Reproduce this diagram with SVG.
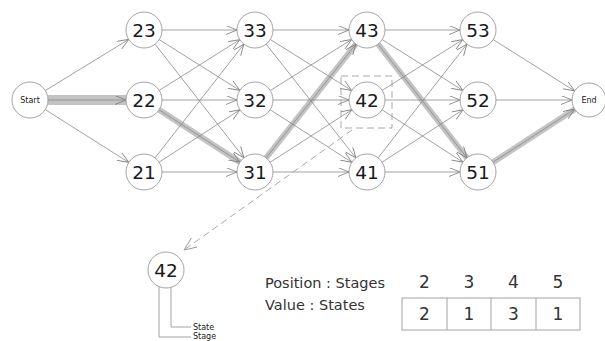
<svg xmlns="http://www.w3.org/2000/svg" width="605" height="341" viewBox="0 0 605 341">
<defs>
<style>
.e{stroke:#8a8a8a;stroke-width:0.8;fill:none;marker-end:url(#ah)}
.hl{stroke:#bdbdbd;stroke-opacity:0.9;fill:none;stroke-linecap:butt}
.n circle{fill:#fff;stroke:#999;stroke-width:0.9}
.n text{font-family:"DejaVu Sans",Verdana,sans-serif;fill:#1a1a1a;text-anchor:middle}
.big{font-size:18.5px}
.sm{font-size:8px}
.lbl{font-family:"DejaVu Sans",Verdana,sans-serif;fill:#333}
</style>
<marker id="ah" markerUnits="userSpaceOnUse" markerWidth="12" markerHeight="10" refX="11" refY="4.5" orient="auto" viewBox="0 0 12 10">
<path d="M0,0 L11,4.5 L0,9" fill="none" stroke="#7a7a7a" stroke-width="0.8"/>
</marker>
<marker id="ah2" markerUnits="userSpaceOnUse" markerWidth="14" markerHeight="12" refX="13" refY="5.5" orient="auto" viewBox="0 0 14 12">
<path d="M0,0 L13,5.5 L0,11" fill="none" stroke="#999" stroke-width="0.9"/>
</marker>
</defs>
<rect width="605" height="341" fill="#fff"/>
<g id="highlight">
<line class="hl" x1="48" y1="100" x2="130" y2="100" stroke-width="10"/>
<line class="hl" x1="144" y1="100" x2="255" y2="172" stroke-width="6"/>
<line class="hl" x1="255" y1="172" x2="367" y2="30" stroke-width="6"/>
<line class="hl" x1="367" y1="30" x2="478" y2="172" stroke-width="6"/>
<line class="hl" x1="478" y1="172" x2="589" y2="100" stroke-width="6"/>
</g>
<g id="connectors">
<line class="e" x1="45.3" y1="90.6" x2="128.7" y2="39.4"/>
<line class="e" x1="48" y1="100" x2="126" y2="100"/>
<line class="e" x1="45.2" y1="109.6" x2="128.8" y2="162.4"/>

<line class="e" x1="162" y1="30" x2="237" y2="30"/>
<line class="e" x1="159.2" y1="39.6" x2="239.8" y2="90.4"/>
<line class="e" x1="155.1" y1="44.2" x2="243.9" y2="157.8"/>
<line class="e" x1="159.2" y1="90.4" x2="239.8" y2="39.6"/>
<line class="e" x1="162" y1="100" x2="237" y2="100"/>
<line class="e" x1="159.1" y1="109.8" x2="239.9" y2="162.2"/>
<line class="e" x1="155.1" y1="157.8" x2="243.9" y2="44.2"/>
<line class="e" x1="159.1" y1="162.2" x2="239.9" y2="109.8"/>
<line class="e" x1="162" y1="172" x2="237" y2="172"/>

<line class="e" x1="273" y1="30" x2="349" y2="30"/>
<line class="e" x1="270.3" y1="39.5" x2="351.7" y2="90.5"/>
<line class="e" x1="266.1" y1="44.1" x2="355.9" y2="157.9"/>
<line class="e" x1="270.3" y1="90.5" x2="351.7" y2="39.5"/>
<line class="e" x1="273" y1="100" x2="349" y2="100"/>
<line class="e" x1="270.1" y1="109.7" x2="351.9" y2="162.3"/>
<line class="e" x1="266.1" y1="157.9" x2="355.9" y2="44.1"/>
<line class="e" x1="270.1" y1="162.3" x2="351.9" y2="109.7"/>
<line class="e" x1="273" y1="172" x2="349" y2="172"/>

<line class="e" x1="385" y1="30" x2="460" y2="30"/>
<line class="e" x1="382.2" y1="39.6" x2="462.8" y2="90.4"/>
<line class="e" x1="378.1" y1="44.2" x2="466.9" y2="157.8"/>
<line class="e" x1="382.2" y1="90.4" x2="462.8" y2="39.6"/>
<line class="e" x1="385" y1="100" x2="460" y2="100"/>
<line class="e" x1="382.1" y1="109.8" x2="462.9" y2="162.2"/>
<line class="e" x1="378.1" y1="157.8" x2="466.9" y2="44.2"/>
<line class="e" x1="382.1" y1="162.2" x2="462.9" y2="109.8"/>
<line class="e" x1="385" y1="172" x2="460" y2="172"/>

<line class="e" x1="493.2" y1="39.6" x2="574.6" y2="90.9"/>
<line class="e" x1="496" y1="100" x2="572" y2="100"/>
<line class="e" x1="493.1" y1="162.2" x2="574.7" y2="109.2"/>

<rect x="341" y="76" width="51" height="52" fill="none" stroke="#a0a0a0" stroke-width="0.9" stroke-dasharray="7,4"/>
<line x1="352" y1="130" x2="184" y2="250" stroke="#a0a0a0" stroke-width="0.9" stroke-dasharray="7,4" marker-end="url(#ah2)"/>
</g>
<g id="start" class="n"><circle cx="30" cy="100" r="18"/><text class="sm" x="30" y="103">Start</text></g>
<g id="n23" class="n"><circle cx="144" cy="30" r="18"/><text class="big" x="144" y="36.5">23</text></g>
<g id="n22" class="n"><circle cx="144" cy="100" r="18"/><text class="big" x="144" y="106.5">22</text></g>
<g id="n21" class="n"><circle cx="144" cy="172" r="18"/><text class="big" x="144" y="178.5">21</text></g>
<g id="n33" class="n"><circle cx="255" cy="30" r="18"/><text class="big" x="255" y="36.5">33</text></g>
<g id="n32" class="n"><circle cx="255" cy="100" r="18"/><text class="big" x="255" y="106.5">32</text></g>
<g id="n31" class="n"><circle cx="255" cy="172" r="18"/><text class="big" x="255" y="178.5">31</text></g>
<g id="n43" class="n"><circle cx="367" cy="30" r="18"/><text class="big" x="367" y="36.5">43</text></g>
<g id="n42" class="n"><circle cx="367" cy="100" r="18"/><text class="big" x="367" y="106.5">42</text></g>
<g id="n41" class="n"><circle cx="367" cy="172" r="18"/><text class="big" x="367" y="178.5">41</text></g>
<g id="n53" class="n"><circle cx="478" cy="30" r="18"/><text class="big" x="478" y="36.5">53</text></g>
<g id="n52" class="n"><circle cx="478" cy="100" r="18"/><text class="big" x="478" y="106.5">52</text></g>
<g id="n51" class="n"><circle cx="478" cy="172" r="18"/><text class="big" x="478" y="178.5">51</text></g>
<g id="end" class="n"><circle cx="589" cy="100" r="17"/><text class="sm" x="589" y="103">End</text></g>

<g id="legend-node" class="n">
<circle cx="166" cy="270" r="18"/><text class="big" x="166" y="276.5">42</text>
<polyline points="159,286.6 159,337 191,337" fill="none" stroke="#999" stroke-width="0.9"/>
<polyline points="171,287.3 171,327 191,327" fill="none" stroke="#999" stroke-width="0.9"/>
<text x="193" y="330" style="font-size:8px;text-anchor:start">State</text>
<text x="193" y="339" style="font-size:8px;text-anchor:start">Stage</text>
</g>

<g id="table">
<text class="lbl" x="265" y="288" font-size="14.5">Position : Stages</text>
<text class="lbl" x="265" y="310" font-size="14.5">Value : States</text>
<g class="lbl" font-size="17" text-anchor="middle">
<text x="424.5" y="288">2</text><text x="469" y="288">3</text><text x="513.5" y="288">4</text><text x="558" y="288">5</text>
<text x="424.5" y="320">2</text><text x="469" y="320">1</text><text x="513.5" y="320">3</text><text x="558" y="320">1</text>
</g>
<rect x="402" y="298" width="178" height="32" fill="none" stroke="#999" stroke-width="0.9"/>
<line x1="447" y1="298" x2="447" y2="330" stroke="#999" stroke-width="0.9"/>
<line x1="491" y1="298" x2="491" y2="330" stroke="#999" stroke-width="0.9"/>
<line x1="536" y1="298" x2="536" y2="330" stroke="#999" stroke-width="0.9"/>
</g>
</svg>
